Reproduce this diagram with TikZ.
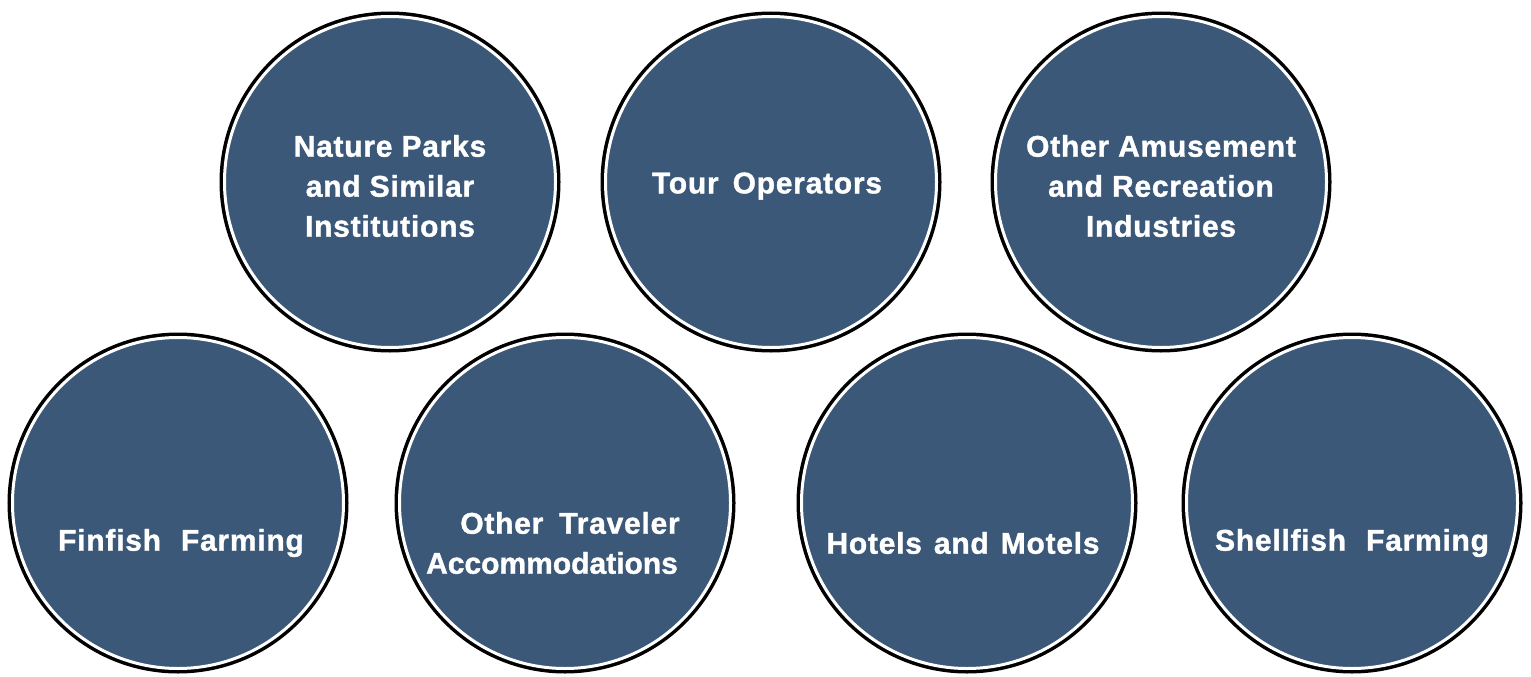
\documentclass[tikz,border=0pt]{standalone}
\usepackage{fontspec}
\setmainfont{Liberation Sans}[LetterSpace=2.5,BoldFeatures={FakeBold=1.2}]
\definecolor{slateblue}{RGB}{59,88,120}
\tikzset{
	ring/.style={circle,minimum size=331pt,inner sep=0pt,fill=slateblue,draw=white,line width=3pt,
		preaction={draw=black,line width=10pt}},
	caption/.style={align=center,text=white,font=\fontsize{30}{40}\selectfont\bfseries}
}
\begin{document}
\begin{tikzpicture}[x=1pt,y=-1pt]

\useasboundingbox (0,0) rectangle (1531,677);

% The top row
\node[ring] (parks) at (390,182) {};
\node[ring] (tour) at (771,182) {};
\node[ring] (amuse) at (1161,182) {};

% The bottom row
\node[ring] (fin) at (178,503) {};
\node[ring] (travel) at (565,503) {};
\node[ring] (hotel) at (967,503) {};
\node[ring] (shell) at (1352,503) {};

% The captions
\node[caption] (parkstext) at ([yshift=-4pt]parks.center) {Nature Parks\\and Similar\\Institutions};
\node[caption] (tourtext) at ([shift={(-4pt,-4pt)}]tour.center) {Tour\hspace{14pt}Operators};
\node[caption] (amusetext) at ([yshift=-4pt]amuse.center) {Other Amusement\\and Recreation\\Industries};
\node[caption] (fintext) at ([shift={(3pt,-40pt)}]fin.center) {Finfish\hspace{20pt}Farming};
\node[caption] (traveltext) at ([shift={(-13pt,-40pt)}]travel.center) {\hspace*{36pt}Other\hspace{16pt}Traveler\\{\addfontfeatures{LetterSpace=0}Accommodations}};
\node[caption] (hoteltext) at ([shift={(-4pt,-40pt)}]hotel.center) {Hotels\hspace{12pt}and\hspace{12pt}Motels};
\node[caption] (shelltext) at ([yshift=-40pt]shell.center) {Shellfish\hspace{20pt}Farming};

\end{tikzpicture}
\end{document}
